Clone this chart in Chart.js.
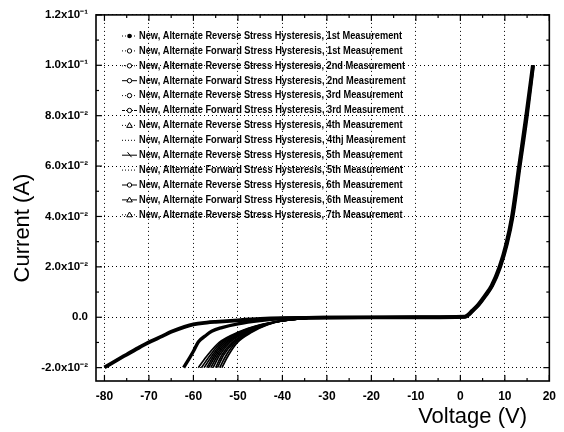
<!DOCTYPE html>
<html>
<head>
<meta charset="utf-8">
<script src="https://cdn.jsdelivr.net/npm/chart.js@4/dist/chart.umd.min.js"></script>
<style>
  body { margin: 0; background: #fff; }
  canvas { display: block; }
</style>
</head>
<body>
<canvas id="ivChart" width="564" height="432"></canvas>
<script>
// ------------------------- DATA -------------------------------------

var seriesNames = [
  "New, Alternate Reverse Stress Hysteresis, 1st Measurement",
  "New, Alternate Forward Stress Hysteresis, 1st Measurement",
  "New, Alternate Reverse Stress Hysteresis, 2nd Measurement",
  "New, Alternate Forward Stress Hysteresis, 2nd Measurement",
  "New, Alternate Reverse Stress Hysteresis, 3rd Measurement",
  "New, Alternate Forward Stress Hysteresis, 3rd Measurement",
  "New, Alternate Reverse Stress Hysteresis, 4th Measurement",
  "New, Alternate Forward Stress Hysteresis, 4thj Measurement",
  "New, Alternate Reverse Stress Hysteresis, 5th Measurement",
  "New, Alternate Forward Stress Hysteresis, 5th Measurement",
  "New, Alternate Reverse Stress Hysteresis, 6th Measurement",
  "New, Alternate Forward Stress Hysteresis, 6th Measurement",
  "New, Alternate Reverse Stress Hysteresis, 7th Measurement"
];

// forward conduction branch (V > 0), two slightly offset traces
var posVoltageA = [0, 1, 1.6, 2.6, 4, 5.5, 7, 8.8, 10.3, 11.6, 13.2, 14.8, 16.3];
var posVoltageB = [0, 1.2, 1.8, 2.8, 4.2, 5.7, 7.2, 9.0, 10.5, 11.8, 13.4, 15.0, 16.4];
var posCurrent  = [0, 0.0002, 0.0008, 0.0025, 0.005, 0.0085, 0.0125, 0.02, 0.029, 0.04, 0.06, 0.08, 0.1];

// flat part between the branches
var flatVoltage = [-20, -10];
var flatCurrent = [-0.00005, 0];

// reverse branch, 1st measurements
var rev1Voltage = [-80, -77, -75, -72, -70, -67, -65, -62, -60, -57, -55, -50, -45, -40, -35, -30];
var rev1Current = [-0.0199, -0.0168, -0.0148, -0.0118, -0.0099, -0.0075, -0.0058, -0.0038, -0.0028, -0.0021, -0.0018, -0.0012, -0.0007, -0.0004, -0.00025, -0.00015];
var fwd1Voltage = [-62.2, -61.1, -60, -58.9, -57.4, -55.9, -53.6, -50, -45, -40, -35, -30];
var fwd1Current = [-0.02, -0.0168, -0.0135, -0.0098, -0.0075, -0.0056, -0.0041, -0.0026, -0.0013, -0.0005, -0.0002, -0.0001];

// the fan of later measurements, voltages at shared current levels
var fanCurrent = [-0.02, -0.015, -0.01, -0.006, -0.003, -0.0014, -0.0005, -0.0001];
var fanVoltage = [
  [-58.9, -56.8, -54.2, -50.0, -45.0, -40.3, -35, -30],
  [-58.2, -56.2, -53.8, -49.7, -44.8, -40.2, -35, -30],
  [-57.6, -55.7, -53.4, -49.4, -44.6, -40.2, -35, -30],
  [-57.0, -55.3, -53.0, -49.0, -44.4, -40.1, -35, -30],
  [-56.6, -54.9, -52.6, -48.7, -44.3, -40.1, -35, -30],
  [-56.1, -54.5, -52.2, -48.4, -44.1, -40.0, -35, -30],
  [-55.6, -54.1, -51.8, -48.1, -44.0, -40.0, -35, -30],
  [-55.0, -53.6, -51.3, -47.8, -43.8, -40.0, -35, -30],
  [-54.6, -53.2, -50.9, -47.5, -43.6, -39.9, -35, -30],
  [-54.1, -52.6, -50.5, -47.2, -43.5, -39.9, -35, -30],
  [-53.6, -52.1, -50.1, -46.9, -43.3, -39.8, -34.9, -30]
];

// axes
var xTickValues = [-80, -70, -60, -50, -40, -30, -20, -10, 0, 10, 20];
var xMinorValues = [-75, -65, -55, -45, -35, -25, -15, -5, 5, 15];
var yTickValues = [-0.02, 0, 0.02, 0.04, 0.06, 0.08, 0.1, 0.12];
var yMinorValues = [-0.01, 0.01, 0.03, 0.05, 0.07, 0.09, 0.11];
var yTickText = ["-2.0x10\u207B\u00B2", "0.0", "2.0x10\u207B\u00B2", "4.0x10\u207B\u00B2",
                 "6.0x10\u207B\u00B2", "8.0x10\u207B\u00B2", "1.0x10\u207B\u00B9", "1.2x10\u207B\u00B9"];

// ------------------------- STYLE -------------------------------------

// legend sample: dotted / solid line and marker kind
var legendStyles = [
  { dash: [1, 2], mark: "dot" },
  { dash: [1, 2], mark: "circle" },
  { dash: [1, 2], mark: "circle" },
  { dash: [],     mark: "circle" },
  { dash: [1, 2], mark: "circle" },
  { dash: [3, 1], mark: "circle" },
  { dash: [1, 2], mark: "tri" },
  { dash: [1, 2], mark: "none" },
  { dash: [],     mark: "slash" },
  { dash: [1, 2], mark: "none" },
  { dash: [],     mark: "circle" },
  { dash: [],     mark: "tri" },
  { dash: [1, 2], mark: "tri" }
];

// ------------------------- BUILD -------------------------------------

function toPoints(vs, is) {
  return vs.map(function(v, i) { return { x: v, y: is[i] }; });
}

function buildSeries(negV, negI, posV) {
  return toPoints(negV, negI)
    .concat(toPoints(flatVoltage, flatCurrent))
    .concat(toPoints(posV, posCurrent).slice(1));
}

var datasets = seriesNames.map(function(name, i) {
  var pts, width;
  var posV = (i % 2 === 0) ? posVoltageA : posVoltageB;
  if (i === 0) {
    pts = buildSeries(rev1Voltage, rev1Current, posV);
    width = 3.8;
  } else if (i === 1) {
    pts = buildSeries(fwd1Voltage, fwd1Current, posV);
    width = 3.4;
  } else {
    pts = buildSeries(fanVoltage[i - 2], fanCurrent, posV);
    width = 1.7;
  }
  return {
    label: name,
    data: pts,
    borderColor: "#000",
    backgroundColor: "#000",
    borderWidth: width,
    pointRadius: 0,
    tension: 0.3,
    cubicInterpolationMode: "monotone",
    fill: false
  };
});

// ------------------------- PLUGINS -----------------------------------

function seg(ctx, x1, y1, x2, y2) {
  ctx.beginPath(); ctx.moveTo(x1, y1); ctx.lineTo(x2, y2); ctx.stroke();
}

var framePlugin = {
  id: "frame",
  afterDraw: function(chart) {
    var ctx = chart.ctx, a = chart.chartArea;
    var xs = chart.scales.x, ys = chart.scales.y;
    ctx.save();
    ctx.strokeStyle = "#000";
    ctx.setLineDash([]);
    ctx.lineWidth = 1.6;
    ctx.strokeRect(a.left, a.top, a.right - a.left, a.bottom - a.top);

    // inward ticks on all four sides
    ctx.lineWidth = 1.2;
    xTickValues.forEach(function(v) {
      var p = xs.getPixelForValue(v);
      seg(ctx, p, a.bottom, p, a.bottom - 6);
      seg(ctx, p, a.top, p, a.top + 6);
    });
    xMinorValues.forEach(function(v) {
      var p = xs.getPixelForValue(v);
      seg(ctx, p, a.bottom, p, a.bottom - 3);
      seg(ctx, p, a.top, p, a.top + 3);
    });
    yTickValues.forEach(function(v) {
      var p = ys.getPixelForValue(v);
      seg(ctx, a.left, p, a.left + 6, p);
      seg(ctx, a.right, p, a.right - 6, p);
    });
    yMinorValues.forEach(function(v) {
      var p = ys.getPixelForValue(v);
      seg(ctx, a.left, p, a.left + 3, p);
      seg(ctx, a.right, p, a.right - 3, p);
    });

    // axis titles
    ctx.fillStyle = "#000";
    ctx.font = "22px 'Liberation Sans', Arial, sans-serif";
    ctx.textBaseline = "middle";
    ctx.textAlign = "right";
    ctx.fillText("Voltage (V)", 527, 417);
    ctx.save();
    ctx.translate(23, 228);
    ctx.rotate(-Math.PI / 2);
    ctx.textAlign = "center";
    ctx.fillText("Current (A)", 0, 0);
    ctx.restore();
    ctx.restore();
  }
};

function drawMark(ctx, kind, x, y) {
  ctx.setLineDash([]);
  ctx.lineWidth = 1;
  if (kind === "dot") {
    ctx.beginPath(); ctx.arc(x, y, 2.3, 0, Math.PI * 2); ctx.fill();
  } else if (kind === "circle") {
    ctx.beginPath(); ctx.arc(x, y, 2.2, 0, Math.PI * 2);
    ctx.fillStyle = "#fff"; ctx.fill(); ctx.stroke(); ctx.fillStyle = "#000";
  } else if (kind === "tri") {
    ctx.beginPath(); ctx.moveTo(x, y - 2.8); ctx.lineTo(x + 2.8, y + 2); ctx.lineTo(x - 2.8, y + 2); ctx.closePath();
    ctx.fillStyle = "#fff"; ctx.fill(); ctx.stroke(); ctx.fillStyle = "#000";
  } else if (kind === "slash") {
    seg(ctx, x - 2, y - 3, x + 2, y + 2);
  }
}

var legendPlugin = {
  id: "insideLegend",
  afterDatasetsDraw: function(chart) {
    var ctx = chart.ctx;
    var x0 = 122, x1 = 137, textX = 139, y0 = 36, step = 14.9;
    ctx.save();
    ctx.font = "bold 10.5px 'Liberation Sans', Arial, sans-serif";
    ctx.textBaseline = "middle";
    ctx.textAlign = "left";
    var fit = Math.min(1, 263 / ctx.measureText(seriesNames[0]).width);
    chart.data.datasets.forEach(function(ds, i) {
      var y = y0 + i * step;
      var st = legendStyles[i];
      ctx.strokeStyle = "#000";
      ctx.fillStyle = "#000";
      ctx.lineWidth = 1;
      ctx.setLineDash(st.dash);
      seg(ctx, x0, y, x1, y);
      drawMark(ctx, st.mark, (x0 + x1) / 2, y);
      ctx.save();
      ctx.translate(textX, y);
      ctx.scale(fit, 1);
      ctx.fillText(ds.label, 0, 0);
      ctx.restore();
    });
    ctx.restore();
  }
};

// ------------------------- CHART -------------------------------------

var tickFont = { family: "'Liberation Sans', Arial, sans-serif", size: 11.5, weight: "bold" };

new Chart(document.getElementById("ivChart"), {
  type: "line",
  data: { datasets: datasets },
  options: {
    responsive: false,
    animation: false,
    devicePixelRatio: 1,
    layout: { padding: { top: 13, right: 12, left: 0, bottom: 0 } },
    plugins: { legend: { display: false }, tooltip: { enabled: false } },
    scales: {
      x: {
        type: "linear",
        min: -81.9,
        max: 20,
        afterBuildTicks: function(s) { s.ticks = xTickValues.map(function(v) { return { value: v }; }); },
        afterFit: function(s) { s.height = 51; },
        grid: { color: "#000", lineWidth: 1, drawTicks: false },
        border: { display: false, dash: [1, 3] },
        ticks: { color: "#000", font: { family: tickFont.family, size: 12, weight: "bold" }, padding: 8, maxRotation: 0,
                 callback: function(v) { return String(v); } }
      },
      y: {
        type: "linear",
        min: -0.0253,
        max: 0.12,
        afterBuildTicks: function(s) { s.ticks = yTickValues.map(function(v) { return { value: v }; }); },
        afterFit: function(s) { s.width = 96; },
        grid: { color: "#000", lineWidth: 1, drawTicks: false },
        border: { display: false, dash: [1, 3] },
        ticks: { color: "#000", font: tickFont, padding: 8,
                 callback: function(v) { return yTickText[yTickValues.indexOf(v)]; } }
      }
    }
  },
  plugins: [legendPlugin, framePlugin]
});
</script>
</body>
</html>
